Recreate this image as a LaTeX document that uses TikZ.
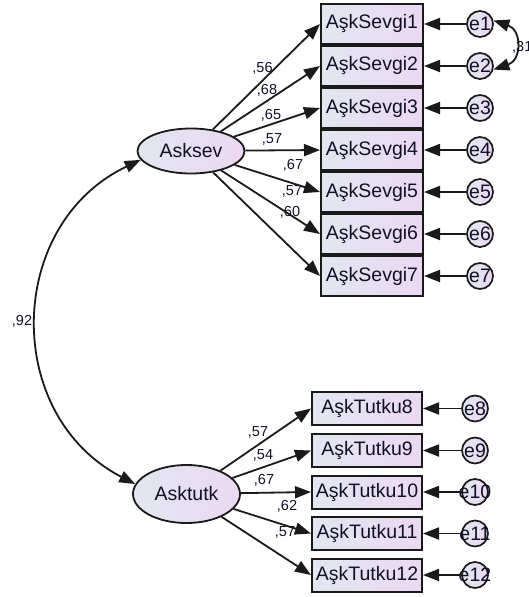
\documentclass[tikz,border=0pt]{standalone}
\usepackage{fontspec}
\setmainfont{Liberation Sans}
\usetikzlibrary{shapes.geometric,arrows.meta}
\definecolor{fillL}{HTML}{E2E7F0}
\definecolor{fillR}{HTML}{ECD8F3}
\definecolor{edge}{HTML}{1A1A1A}
\definecolor{txt}{HTML}{111128}
\begin{document}
\begin{tikzpicture}[x=1pt,y=-1pt,
  arr/.style={draw=edge,line width=1.8pt,-{Triangle[length=16pt,width=12pt]}},
  biarr/.style={draw=edge,line width=1.8pt,{Triangle[length=16pt,width=12pt]}-{Triangle[length=16pt,width=12pt]}},
  shadedfill/.style={left color=fillL,right color=fillR,draw=edge,text=txt},
  obsup/.style={shadedfill,rectangle,line width=2pt,minimum width=102pt,minimum height=40.5pt,inner sep=0pt,font=\fontsize{19.5}{22}\selectfont},
  obslow/.style={shadedfill,rectangle,line width=2pt,minimum width=110pt,minimum height=33pt,inner sep=0pt,font=\fontsize{19.5}{22}\selectfont},
  latent/.style={shadedfill,ellipse,line width=1.8pt,minimum width=107pt,inner sep=0pt,font=\fontsize{19.5}{22}\selectfont},
  errc/.style={shadedfill,circle,line width=1.7pt,minimum size=26pt,inner sep=0pt,font=\fontsize{19.5}{22}\selectfont},
  lbl/.style={text=txt,inner sep=0pt,font=\fontsize{14.5}{16}\selectfont}
]
\useasboundingbox (0,0) rectangle (529,597);

% latent variables
\node[latent,minimum height=45pt] (Asksev) at (191,151) {Asksev};
\node[latent,minimum height=58pt] (Asktutk) at (186.5,494) {Asktutk};

% upper indicators
\foreach \i/\y in {1/24,2/66,3/108,4/150,5/192,6/234,7/276}{
  \node[obsup] (b\i) at (372,\y) {AşkSevgi\i};
  \node[errc] (e\i) at (480,\y) {\makebox[0pt][c]{e\i}};
}
% lower indicators
\foreach \i/\y in {8/408.5,9/450.5,10/492,11/533.5,12/575}{
  \node[obslow] (b\i) at (367,\y) {AşkTutku\i};
  \node[errc] (e\i) at (475,\y) {\makebox[0pt][c]{e\i}};
}

% loadings
\foreach \i in {1,...,7}{ \draw[arr] (Asksev) -- (b\i.west); }
\foreach \i in {8,...,12}{ \draw[arr] (Asktutk) -- (b\i.west); }
% error arrows
\foreach \i in {1,...,12}{ \draw[arr] (e\i) -- (b\i); }

% covariances
\draw[biarr] (Asksev.190) .. controls (5.5,224) and (2,415) .. (Asktutk.169);
\draw[biarr] (e1.15) .. controls (522,30) and (522,60) .. (e2.-15);

% labels
\node[lbl] (l1) at (262.5,68) {,56};
\node[lbl] (l2) at (267,90) {,68};
\node[lbl] (l3) at (271,115) {,65};
\node[lbl] (l4) at (272,139) {,57};
\node[lbl] (l5) at (293,165) {,67};
\node[lbl] (l6) at (292,191) {,57};
\node[lbl] (l7) at (290,212) {,60};
\node[lbl] (l8) at (258,432) {,57};
\node[lbl] (l9) at (263,455) {,54};
\node[lbl] (l10) at (264,480) {,67};
\node[lbl] (l11) at (287,506) {,62};
\node[lbl] (l12) at (285,532) {,57};
\node[lbl] (lc) at (22,321) {,92};
\node[lbl,anchor=west] (le) at (512,47) {,31};
\end{tikzpicture}
\end{document}
